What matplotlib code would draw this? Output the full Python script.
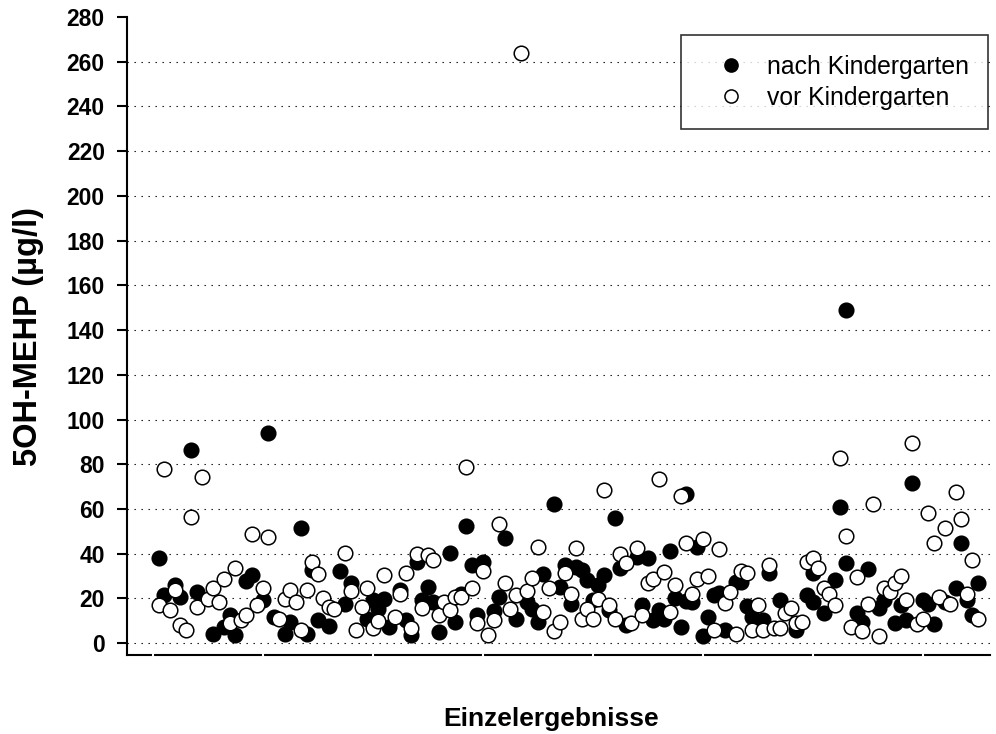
import matplotlib
matplotlib.use("Agg")
import matplotlib.pyplot as plt

plt.rcParams['font.family'] = ['Liberation Sans', 'DejaVu Sans']

# 5OH-MEHP je Kind, Probe nach dem Kindergarten (gefuellt)
nach_idx = [1, 2, 4, 5, 7, 8, 11, 13, 14, 15, 17, 18, 20, 21, 22, 24, 25, 27, 28, 29,
            30, 32, 34, 35, 36, 39, 40, 41, 42, 43, 45, 46, 47, 48, 49, 50, 51, 52, 54, 55,
            56, 57, 58, 59, 60, 62, 63, 64, 66, 68, 69, 70, 71, 73, 74, 75, 76, 77, 78, 79,
            80, 81, 82, 83, 84, 85, 86, 88, 89, 90, 91, 92, 93, 94, 95, 96, 97, 97, 98, 99,
            100, 101, 102, 103, 104, 106, 107, 108, 109, 110, 111, 112, 114, 117, 119, 120, 120, 122, 124, 125,
            126, 126, 128, 129, 130, 132, 133, 135, 136, 137, 138, 140, 141, 142, 144, 146, 147, 148, 149, 150]
nach_wert = [37.9, 21.5, 26.0, 20.7, 86.6, 23.0, 4.3, 7.3, 12.5, 3.6, 28.0, 30.4, 19.2, 94.2, 11.8, 4.3, 9.5, 51.3, 4.3, 32.6,
             10.3, 7.6, 32.3, 17.7, 27.0, 11.0, 19.2, 15.4, 19.9, 7.3, 23.7, 10.3, 3.6, 36.4, 19.2, 25.2, 18.5, 4.8, 40.1, 9.5,
             22.2, 52.3, 34.9, 12.5, 36.4, 14.4, 20.7, 47.1, 11.0, 18.5, 15.4, 9.5, 30.9, 62.2, 25.2, 34.9, 17.7, 34.1, 32.6, 28.2,
             19.2, 25.9, 30.4, 14.8, 55.8, 33.4, 8.0, 38.6, 17.0, 37.9, 10.3, 14.8, 11.0, 41.1, 20.3, 7.3, 66.9, 18.8, 18.5, 43.1,
             3.1, 11.8, 21.5, 22.5, 6.1, 27.4, 27.4, 16.5, 11.8, 7.3, 10.3, 31.2, 19.2, 5.8, 21.5, 31.2, 18.5, 13.3, 28.2, 60.7,
             35.7, 149.0, 13.3, 9.5, 33.0, 15.8, 19.2, 9.1, 17.0, 10.3, 71.7, 19.2, 17.4, 8.5, 18.5, 24.5, 44.6, 19.2, 12.5, 26.7]

# Probe vor dem Kindergarten (offen)
vor_idx = [1, 2, 3, 4, 5, 6, 7, 8, 9, 10, 11, 12, 13, 14, 15, 16, 17, 18, 19, 20,
           21, 23, 24, 25, 26, 27, 28, 29, 30, 31, 32, 33, 35, 36, 37, 38, 39, 40, 41, 42,
           44, 45, 46, 47, 48, 49, 50, 51, 52, 53, 54, 55, 56, 57, 58, 59, 60, 61, 62, 63,
           64, 65, 66, 67, 68, 69, 70, 71, 72, 73, 74, 75, 76, 77, 78, 79, 80, 81, 82, 83,
           84, 85, 86, 87, 88, 89, 90, 91, 92, 93, 94, 95, 96, 97, 98, 99, 100, 101, 102, 103,
           104, 105, 106, 107, 108, 109, 110, 111, 112, 113, 114, 115, 116, 117, 118, 119, 120, 121, 122, 123,
           124, 125, 126, 127, 128, 129, 130, 131, 132, 133, 134, 135, 136, 137, 138, 139, 140, 141, 142, 143,
           144, 145, 146, 147, 148, 149, 150]
vor_wert = [17.0, 78.1, 14.8, 23.7, 8.0, 6.1, 56.5, 16.2, 74.1, 19.7, 24.5, 18.5, 28.9, 9.1, 33.4, 10.3, 12.5, 48.7, 17.0, 24.5,
            47.3, 10.6, 19.7, 23.7, 18.5, 6.1, 23.7, 36.4, 30.9, 20.4, 16.2, 15.4, 40.1, 23.4, 5.8, 16.2, 24.5, 6.6, 10.0, 30.4,
            11.8, 22.2, 31.6, 6.6, 39.8, 15.8, 39.4, 37.1, 12.5, 18.5, 15.0, 20.7, 20.7, 78.9, 24.5, 9.1, 32.2, 3.6, 10.3, 53.5,
            27.0, 15.4, 21.5, 264.0, 23.4, 29.2, 43.1, 14.0, 24.5, 5.5, 9.5, 31.6, 21.8, 42.4, 10.6, 15.4, 10.6, 19.9, 68.7, 17.0,
            11.0, 39.8, 35.7, 9.1, 42.6, 12.5, 26.7, 28.9, 73.3, 31.9, 14.0, 26.2, 65.9, 44.6, 21.8, 28.9, 46.8, 30.0, 6.1, 41.9,
            18.0, 23.0, 4.3, 32.3, 31.5, 5.8, 17.0, 6.1, 34.9, 7.0, 6.6, 13.6, 15.8, 8.8, 9.5, 36.4, 38.3, 33.4, 24.5, 21.9,
            17.0, 83.0, 47.9, 7.3, 29.7, 5.5, 17.4, 62.2, 3.1, 24.5, 23.0, 26.7, 30.0, 19.2, 89.3, 8.5, 10.6, 58.3, 44.9, 20.7,
            51.7, 17.7, 67.4, 55.5, 22.2, 37.1, 11.0]

y_ticks = list(range(0, 281, 20))
x_ticks = list(range(0, 141, 20))

fig = plt.figure(figsize=(9.96, 7.34), dpi=100)
ax = fig.add_axes([0.1275, 0.1076, 0.8665, 0.8692])

for y in y_ticks[:-1]:
    ax.axhline(y, color='black', lw=0.8, ls=(0, (1.2, 5.1)), zorder=1)

ax.plot(nach_idx, nach_wert, 'o', ms=10.5, mfc='black', mec='black', mew=1.1,
        ls='none', label='nach Kindergarten', zorder=3)
ax.plot(vor_idx, vor_wert, 'o', ms=10.5, mfc='white', mec='black', mew=1.1,
        ls='none', label='vor Kindergarten', zorder=4)

ax.set_xlim(-4.73, 152.2)
ax.set_ylim(-5.3, 280)
ax.set_yticks(y_ticks)
ax.set_xticks(x_ticks)
ax.set_xticklabels([])

ax.spines['top'].set_visible(False)
ax.spines['right'].set_visible(False)
ax.spines['left'].set_linewidth(1.5)
ax.spines['bottom'].set_linewidth(1.5)

ax.tick_params(axis='y', direction='out', length=7, width=1.5, pad=9, labelsize=16.5)
for lab in ax.get_yticklabels():
    lab.set_fontweight('bold')
# small white notches cut into the bottom axis line
ax.tick_params(axis='x', direction='inout', length=4, width=1.5, color='white')
ax.xaxis.set_zorder(5)

ax.set_ylabel('5OH-MEHP (µg/l)', fontsize=23.5, fontweight='bold', labelpad=16)
ax.set_xlabel('Einzelergebnisse', fontsize=19, fontweight='bold', labelpad=32)
ax.xaxis.set_label_coords(0.491, -0.0)
ax.xaxis.label.set_verticalalignment('top')
ax.xaxis.label.set_y(-0.082)

leg = ax.legend(loc='upper right', bbox_to_anchor=(0.998, 0.972), borderaxespad=0,
                fontsize=17.8, frameon=True, fancybox=False, edgecolor='black',
                borderpad=0.8, handlelength=2.45, handletextpad=0.2, labelspacing=0.28,
                markerscale=0.9)
leg.get_frame().set_linewidth(1.2)

fig.savefig('out.png', dpi=100)
